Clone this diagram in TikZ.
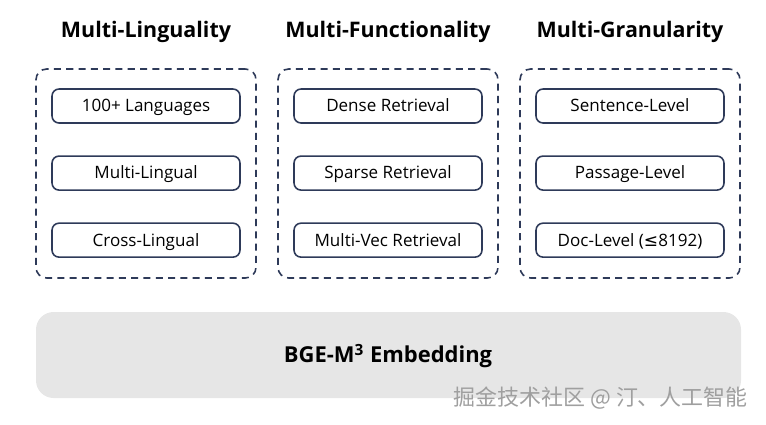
\documentclass[tikz,border=0pt]{standalone}
\usepackage{fontspec}
\setmainfont{Open Sans}
\newfontfamily\cjkfont{Noto Sans CJK SC}
\newfontfamily\symfont{DejaVu Sans}
\usetikzlibrary{positioning}

\definecolor{navy}{HTML}{2E3A59}
\definecolor{barfill}{HTML}{E6E6E6}

\begin{document}
\begin{tikzpicture}[
    x=0.02cm, y=-0.02cm,
    title/.style={font=\fontsize{12.2}{14}\selectfont\bfseries},
    group/.style={draw=navy, dash pattern=on 4pt off 3pt, line width=0.9pt, rounded corners=6pt, minimum width=4.4cm, minimum height=4.18cm},
    item/.style={draw=navy, line width=0.9pt, rounded corners=4pt, minimum width=3.76cm, minimum height=0.68cm, text height=1.7ex, text depth=0.45ex, font=\fontsize{9.7}{11}\selectfont},
    stack/.style={fill=barfill, rounded corners=10pt}
]
\useasboundingbox (0,0) rectangle (766,424);

% Titles
\node[title] (lingTitle) at (146,32) {Multi-Linguality};
\node[title] (funcTitle) at (388,32) {Multi-Functionality};
\node[title] (granTitle) at (630,32) {Multi-Granularity};

% Dashed groups
\node[group] (ling) at (146,173.5) {};
\node[group] (func) at (388,173.5) {};
\node[group] (gran) at (630,173.5) {};

% Items: Multi-Linguality
\node[item] (lang) at (146,106) {100+ Languages};
\node[item, below=0.63cm of lang] (mono) {Multi-Lingual};
\node[item, below=0.63cm of mono] (cross) {Cross-Lingual};

% Items: Multi-Functionality
\node[item] (dense) at (388,106) {Dense Retrieval};
\node[item, below=0.63cm of dense] (sparse) {Sparse Retrieval};
\node[item, below=0.63cm of sparse] (multivec) {Multi-Vec Retrieval};

% Items: Multi-Granularity
\node[item] (sent) at (630,106) {Sentence-Level};
\node[item, below=0.63cm of sent] (pass) {Passage-Level};
\node[item, below=0.63cm of pass] (doc) {Doc-Level ({\symfont ≤}8192)};

% Embedding bar
\fill[stack] (36,312) rectangle (741,398);
\node[font=\fontsize{12.5}{15}\selectfont\bfseries] (bge) at (388,356) {BGE-M\textsuperscript{3} Embedding};

% Watermark
\node[anchor=east, text=gray!75, font=\cjkfont\fontsize{12.5}{15}\selectfont] (mark) at (754,398) {掘金技术社区 @ 汀、人工智能};

\end{tikzpicture}
\end{document}
